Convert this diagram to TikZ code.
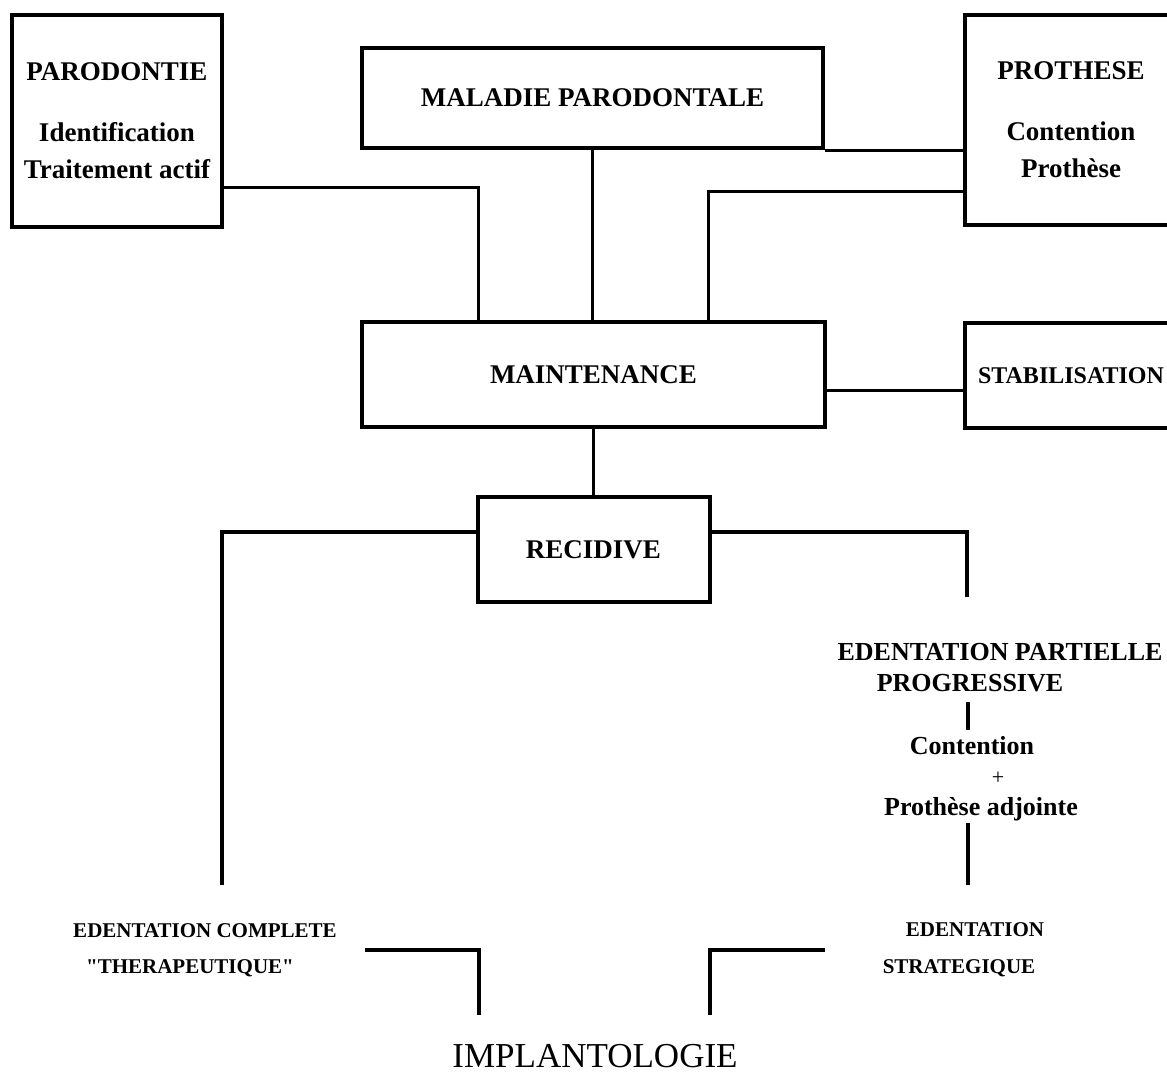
\documentclass[tikz,border=0pt]{standalone}
\usepackage{fontspec}
\setmainfont{Liberation Serif}[Ligatures=TeXOff]
\usetikzlibrary{calc}
\begin{document}
\begin{tikzpicture}[x=1pt,y=-1pt,
  box/.style={draw, line width=4pt, inner sep=0pt, align=center,
    font=\bfseries\fontsize{27}{37}\selectfont},
  conn/.style={line width=3pt},
  bar/.style={line width=4pt},
  lbl/.style={inner sep=0pt, font=\bfseries\fontsize{26}{30}\selectfont},
  small/.style={inner sep=0pt, font=\bfseries\fontsize{21}{25}\selectfont},
  big/.style={inner sep=0pt, font=\fontsize{35}{40}\selectfont}]
\useasboundingbox (0,0) rectangle (1167,1081);
\fill[white] (0,0) rectangle (1167,1081);
\clip (0,0) rectangle (1167,1081);

% boxes
\node[box, minimum width=210pt, minimum height=212pt] (par) at (117,121)
  {PARODONTIE\\[24pt] Identification\\ Traitement actif};
\node[box, minimum width=461pt, minimum height=100pt] (mal) at (592.5,98)
  {MALADIE PARODONTALE};
\node[box, minimum width=212pt, minimum height=209pt] (pro) at (1071,120)
  {PROTHESE\\[24pt] Contention\\ Prothèse};
\node[box, minimum width=463pt, minimum height=105pt] (mai) at (593.5,374.5)
  {MAINTENANCE};
\node[box, minimum width=212pt, minimum height=105pt, font=\bfseries\fontsize{24}{28}\selectfont] (sta) at (1071,375.5)
  {STABILISATION};
\node[box, minimum width=232pt, minimum height=105pt] (rec) at (593.5,549.5)
  {RECIDIVE};

% free texts
\node[lbl] (epp) at (1000,652) {EDENTATION PARTIELLE};
\node[lbl] (prog) at (970,683) {PROGRESSIVE};
\node[lbl] (cont) at (972,746) {Contention};
\node[lbl, font=\fontsize{22}{26}\selectfont] (plus) at (998,778) {+};
\node[lbl] (pa) at (981,809) {Prothèse adjointe};
\node[small] (ec1) at (205,931) {EDENTATION COMPLETE};
\node[small] (ec2) at (190,968) {"THERAPEUTIQUE"};
\node[small] (es1) at (975,930) {EDENTATION};
\node[small] (es2) at (959,968) {STRATEGIQUE};
\node[big] (impl) at (595,1056) {IMPLANTOLOGIE};

% free ends
\coordinate (lDown) at (222,885);
\coordinate (rDown) at (967,597);
\coordinate (b1top) at (968,702);
\coordinate (b1bot) at (968,730);
\coordinate (b2top) at (968,823);
\coordinate (b2bot) at (968,885);
\coordinate (lbStart) at (365,950);
\coordinate (lbEnd) at (479,1015);
\coordinate (rbStart) at (825,950);
\coordinate (rbEnd) at (710,1015);

% connectors
\draw[conn] ([yshift=42pt]par.south east) -| ([xshift=-115.5pt]mai.north);
\draw[conn] (mal.south) -- (mal.south |- mai.north);
\draw[conn] ([yshift=35pt]pro.south west) -| ([xshift=114.5pt]mai.north);
\draw[conn] (mal.south east) -- (mal.south east -| pro.west);
\draw[conn] ([yshift=-15.5pt]mai.east) -- ([yshift=-15.5pt]mai.east -| sta.west);
\draw[conn] (mai.south) -- (rec.north);
\draw[bar] ([yshift=17.5pt]rec.west) -| (lDown);
\draw[bar] ([yshift=17.5pt]rec.east) -| (rDown);
\draw[bar] (b1top) -- (b1bot);
\draw[bar] (b2top) -- (b2bot);
\draw[bar] (lbStart) -| (lbEnd);
\draw[bar] (rbStart) -| (rbEnd);
\end{tikzpicture}
\end{document}
